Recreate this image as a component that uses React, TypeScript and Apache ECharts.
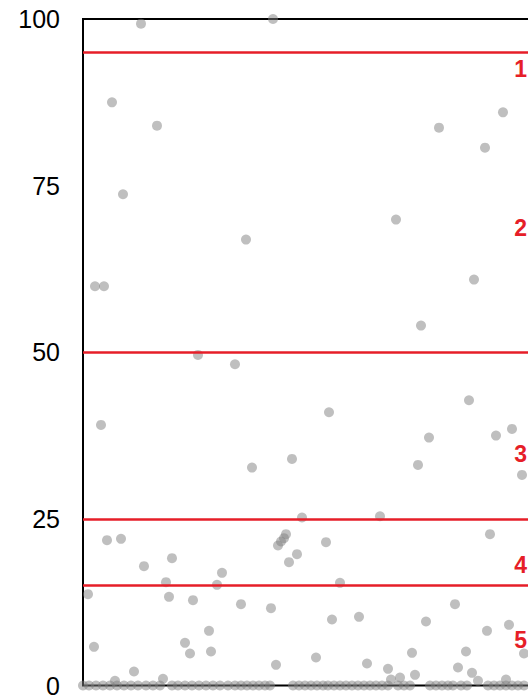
import React, { useEffect, useRef } from "react";
import * as echarts from "echarts";

// Non-zero observations: [x position, value]
const pointX = [58, 190, 29, 74, 40, 12, 21, 163, 18, 115, 152, 169, 209, 246, 219, 203, 201, 198, 195, 243, 214, 206, 89, 139, 134, 257, 86, 110, 158, 188, 249, 126, 102, 107, 128, 233, 193, 24, 38, 61, 83, 5, 11, 51, 80, 32, 420, 356, 402, 313, 391, 338, 386, 346, 413, 429, 335, 439, 297, 407, 276, 372, 343, 404, 426, 441, 284, 329, 383, 305, 317, 308, 332, 375, 389, 395, 423];
const pointY = [99.3, 100, 87.5, 84.0, 73.7, 59.9, 59.9, 66.9, 39.1, 49.6, 48.2, 32.7, 34.0, 41.0, 25.2, 22.7, 22.1, 21.6, 21.0, 21.5, 19.7, 18.5, 19.1, 16.9, 15.1, 15.4, 13.3, 12.8, 12.2, 11.6, 9.9, 8.2, 6.4, 4.8, 5.1, 4.2, 3.1, 21.8, 22.0, 17.9, 15.5, 13.7, 5.8, 2.1, 1.0, 0.7, 86.0, 83.7, 80.7, 69.9, 60.9, 54.0, 42.8, 37.2, 37.5, 38.5, 33.1, 31.6, 25.4, 22.7, 10.3, 12.2, 9.6, 8.2, 9.1, 4.8, 3.3, 4.9, 5.1, 2.5, 1.2, 0.9, 1.6, 2.7, 1.9, 0.7, 0.9];

// Observations with value 0: x positions
const zeroX = [0, 6, 13, 20, 27, 34, 41, 48, 55, 63, 70, 77, 89, 95, 102, 109, 116, 123, 130, 137, 145, 152, 158, 164, 170, 176, 182, 187, 210, 216, 222, 228, 234, 240, 245, 251, 257, 263, 269, 275, 281, 287, 293, 299, 305, 315, 321, 327, 347, 353, 359, 365, 370, 378, 384, 405, 411, 417, 423, 429, 435, 441];

// Threshold lines
const thresholds = [95, 50, 25, 15];

// Zone labels
const zoneNames = ["1", "2", "3", "4", "5"];
const zoneY = [92.5, 68.7, 34.7, 18.1, 6.8];
const zoneLabelX = 444;

const yTicks = { min: 0, max: 100, interval: 25 };
const xRange = { min: 0, max: 460 };

export default function App() {
  const ref = useRef<HTMLDivElement>(null);

  useEffect(() => {
    if (!ref.current) return;
    const chart = echarts.init(ref.current, null, { renderer: "svg" });
    const pts = pointX.map((x, i) => [x, pointY[i]]).concat(zeroX.map((x) => [x, 0]));
    const red = "#e61e28";
    chart.setOption({
      animation: false,
      grid: {
        left: 83,
        top: 19,
        bottom: 9,
        right: 17,
        show: true,
        borderColor: "#000",
        borderWidth: 2,
        backgroundColor: "transparent",
      },
      xAxis: {
        type: "value",
        min: xRange.min,
        max: xRange.max,
        axisLine: { show: false },
        axisTick: { show: false },
        axisLabel: { show: false },
        splitLine: { show: false },
      },
      yAxis: {
        type: "value",
        min: yTicks.min,
        max: yTicks.max,
        interval: yTicks.interval,
        axisLine: { show: false },
        axisTick: { show: false },
        splitLine: { show: false },
        axisLabel: {
          color: "#000",
          fontSize: 25,
          fontFamily: "Liberation Sans, Arial, sans-serif",
          margin: 23,
        },
      },
      series: [
        {
          type: "scatter",
          data: [],
          z: 1,
          markLine: {
            silent: true,
            symbol: "none",
            label: { show: false },
            lineStyle: { color: red, width: 2.5, type: "solid" },
            data: thresholds.map((t) => ({ yAxis: t })),
          },
        },
        {
          type: "scatter",
          z: 3,
          symbolSize: 10,
          itemStyle: { color: "#808080", opacity: 0.5 },
          data: pts,
        },
      ],
    });
    const texts = zoneNames.map((n, i) => {
      const p = chart.convertToPixel({ gridIndex: 0 }, [zoneLabelX, zoneY[i]]) as number[];
      return {
        type: "text",
        x: p[0],
        y: p[1],
        z: 10,
        style: {
          text: n,
          fill: red,
          font: "bold 23px 'Liberation Sans', Arial, sans-serif",
          align: "right",
          verticalAlign: "middle",
        },
      };
    });
    chart.setOption({ graphic: texts });
    return () => chart.dispose();
  }, []);

  return (
    <div
      style={{ position: "absolute", left: 0, top: 0, width: 528, height: 698, overflow: "hidden" }}
    >
      <div ref={ref} style={{ width: 560, height: 698 }} />
    </div>
  );
}
